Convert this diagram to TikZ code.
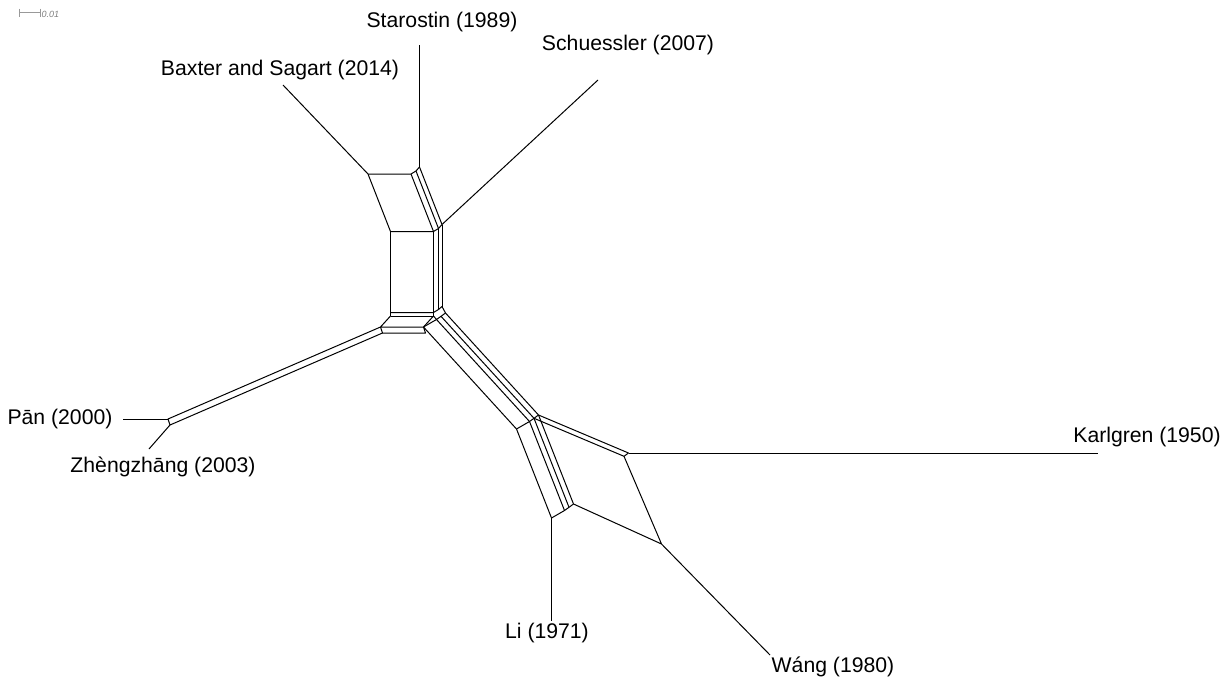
\documentclass[tikz,border=0pt]{standalone}
\usepackage{fontspec}
\setmainfont{Liberation Sans}
\begin{document}
\begin{tikzpicture}[x=0.5pt,y=-0.5pt,line width=0.5pt,
  lbl/.style={font=\fontsize{10.6}{12}\selectfont, inner sep=0pt},
  edge/.style={black, line width=0.5pt, line join=round},
  scalebar/.style={gray!80, line width=0.4pt}]
\useasboundingbox (0,0) rectangle (1231,680);
% ---------- vertices ----------
\coordinate (A)  at (368,174);
\coordinate (T1) at (411,174);
\coordinate (T2) at (416,171);
\coordinate (T3) at (419.5,167);
\coordinate (L1) at (390.5,231.5);
\coordinate (D1) at (433.5,231.5);
\coordinate (D2) at (438.5,228.5);
\coordinate (D3) at (442,224.5);
\coordinate (L1b) at (390.5,312.5);
\coordinate (D1b) at (433.5,312.5);
\coordinate (D2b) at (438.5,309.5);
\coordinate (D3b) at (442,306.5);
\coordinate (L1c) at (390.5,316);
\coordinate (D1c) at (433.5,316);
\coordinate (M1) at (380.5,327);
\coordinate (M2) at (423.5,327);
\coordinate (M1p) at (382.5,333);
\coordinate (M2p) at (425.5,333);
\coordinate (PJ1) at (168,419);
\coordinate (PJ2) at (170,425);
\coordinate (B3) at (445.5,313);
\coordinate (B4) at (436.5,319.5);
\coordinate (P3) at (441,316.3);
\coordinate (C1) at (516.5,429);
\coordinate (C2) at (529.5,421.5);
\coordinate (C3) at (534,418.3);
\coordinate (C4) at (538.5,415);
\coordinate (E1) at (551.5,518);
\coordinate (E2) at (564.5,510.5);
\coordinate (E3) at (569,507.3);
\coordinate (E4) at (573.5,504);
\coordinate (K3) at (624,456.3);
\coordinate (K4) at (628.5,453);
\coordinate (WJ) at (661.5,544);
% free ends of pendant edges
\coordinate (bsE) at (283,85);
\coordinate (stE) at (419.5,45);
\coordinate (scE) at (598,80);
\coordinate (pnE) at (123,419);
\coordinate (zhE) at (149,449);
\coordinate (liE) at (551.5,621);
\coordinate (waE) at (770,655);
\coordinate (kaE) at (1098,453);
% ---------- labels ----------
\node[lbl] (st) at (442,22) {Starostin (1989)};
\node[lbl] (sc) at (628,45) {Schuessler (2007)};
\node[lbl] (bs) at (280,70) {Baxter and Sagart (2014)};
\node[lbl] (pn) at (60,419) {Pān (2000)};
\node[lbl] (zh) at (163,467) {Zhèngzhāng (2003)};
\node[lbl] (li) at (547,633) {Li (1971)};
\node[lbl] (wa) at (833,667) {Wáng (1980)};
\node[lbl] (ka) at (1147,437) {Karlgren (1950)};
% ---------- pendant edges ----------
\draw[edge] (A) -- (bsE);
\draw[edge] (T3) -- (stE);
\draw[edge] (D3) -- (scE);
\draw[edge] (PJ1) -- (pnE);
\draw[edge] (PJ2) -- (zhE);
\draw[edge] (E1) -- (liE);
\draw[edge] (WJ) -- (waE);
\draw[edge] (K4) -- (kaE);
% ---------- top parallelograms ----------
\draw[edge] (A) -- (T1) -- (T2) -- (T3);
\draw[edge] (A) -- (L1) -- (D1) -- (D2) -- (D3);
\draw[edge] (T1) -- (D1);
\draw[edge] (T2) -- (D2);
\draw[edge] (T3) -- (D3);
% ---------- central box ----------
\draw[edge] (L1) -- (L1c);
\draw[edge] (D1) -- (D1c);
\draw[edge] (D2) -- (D2b);
\draw[edge] (D3) -- (D3b);
\draw[edge] (L1b) -- (D1b) -- (D2b) -- (D3b);
\draw[edge] (L1c) -- (D1c);
\draw[edge] (D3b) -- (B3) -- (P3) -- (B4) -- (D1c);
% ---------- Pan / Zhengzhang bundle ----------
\draw[edge] (L1c) -- (M1) -- (M2) -- (D1c);
\draw[edge] (M1) -- (M1p) -- (M2p) -- (M2);
\draw[edge] (M1) -- (PJ1) -- (PJ2) -- (M1p);
% ---------- lower-right bundle ----------
\draw[edge] (M2) -- (B4);
\draw[edge] (M2) -- (C1);
\draw[edge] (B4) -- (C2);
\draw[edge] (P3) -- (C3);
\draw[edge] (B3) -- (C4);
\draw[edge] (C1) -- (C2) -- (C3) -- (C4);
% ---------- Li / Wang / Karlgren ----------
\draw[edge] (C1) -- (E1);
\draw[edge] (C2) -- (E2);
\draw[edge] (C3) -- (E3);
\draw[edge] (C4) -- (E4);
\draw[edge] (E1) -- (E2) -- (E3) -- (E4);
\draw[edge] (C3) -- (K3);
\draw[edge] (C4) -- (K4);
\draw[edge] (K3) -- (K4);
\draw[edge] (E4) -- (WJ) -- (K3);
% ---------- scale bar ----------
\coordinate (sb1) at (19.3,12.7);
\coordinate (sb2) at (40.7,12.7);
\draw[scalebar] (sb1) -- (sb2);
\draw[scalebar] ([yshift=2pt]sb1) -- ([yshift=-2pt]sb1);
\draw[scalebar] ([yshift=2pt]sb2) -- ([yshift=-2pt]sb2);
\node[font=\fontsize{4.5}{5}\selectfont\itshape, text=gray, inner sep=0pt, anchor=west] (sbl) at (41,14) {0.01};
\end{tikzpicture}
\end{document}
